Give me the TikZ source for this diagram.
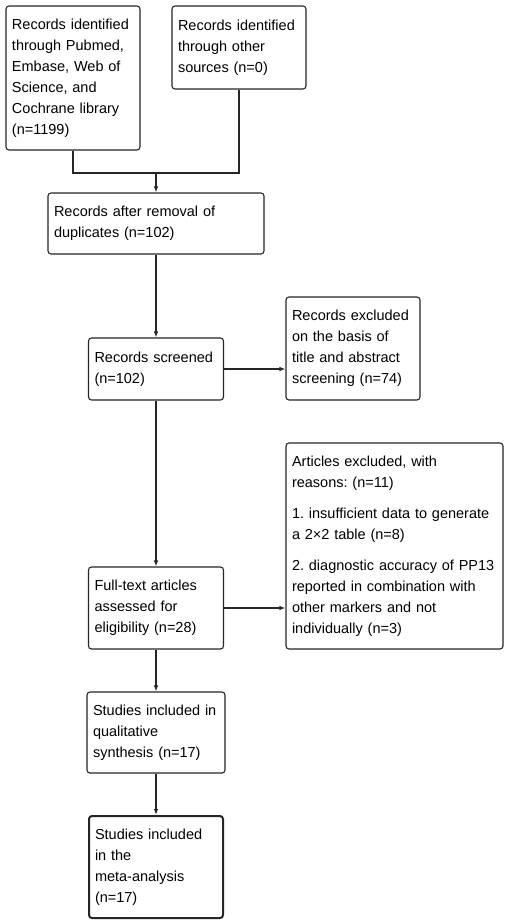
\documentclass[tikz,border=0pt]{standalone}
\usepackage{fontspec}
\setmainfont{Liberation Sans}
\usetikzlibrary{arrows.meta}
\frenchspacing
\newcommand{\fsz}{\fontsize{14.5}{21}\selectfont}
\tikzset{
  box/.style={draw=black!85, rounded corners=3pt, line width=1.1pt, inner xsep=6pt, inner ysep=0pt, align=left, font=\fsz, anchor=center},
  conn/.style={draw=black!85, line width=1.1pt},
  arr/.style={conn, -{Latex[length=6pt,width=4.5pt]}}
}
\begin{document}
\begin{tikzpicture}[x=1pt,y=-1pt]
\useasboundingbox[fill=white] (0,0) rectangle (510,924);
\node[box, minimum width=134pt, minimum height=144pt, text width=122pt] (A) at (73,78)
  {Records identified\\through Pubmed,\\Embase, Web of\\Science, and\\Cochrane library\\(n=1199)};
\node[box, minimum width=134pt, minimum height=83pt, text width=122pt] (B) at (239,47.5)
  {Records identified\\through other\\sources (n=0)};
\node[box, minimum width=216pt, minimum height=61pt, text width=204pt] (C) at (156,223.5)
  {Records after removal of\\duplicates (n=102)};
\node[box, minimum width=135pt, minimum height=62pt, text width=123pt] (D) at (156,369)
  {Records screened\\(n=102)};
\node[box, minimum width=134pt, minimum height=103pt, text width=122pt] (E) at (353,348.5)
  {Records excluded\\on the basis of\\title and abstract\\screening (n=74)};
\node[box, minimum width=217pt, minimum height=206pt, text width=205pt] (F) at (394.5,546)
  {Articles excluded, with\\reasons: (n=11)\\[10pt]1. insufficient data to generate\\a 2×2 table (n=8)\\[10pt]2. diagnostic accuracy of PP13\\reported in combination with\\other markers and not\\individually (n=3)};
\node[box, minimum width=135pt, minimum height=82pt, text width=123pt] (G) at (156,608)
  {Full-text articles\\assessed for\\eligibility (n=28)};
\node[box, minimum width=138pt, minimum height=81pt, text width=126pt] (H) at (156,732.5)
  {Studies included in\\qualitative\\synthesis (n=17)};
\node[box, line width=2pt, minimum width=134pt, minimum height=102pt, text width=122pt] (I) at (156,867)
  {Studies included\\in the\\meta-analysis\\(n=17)};
\coordinate (m) at (156,173);
\draw[conn] (A.south) |- (m) -| (B.south);
\draw[arr] (m) -- (C.north);
\draw[arr] (C.south) -- (D.north);
\draw[arr] (D.east) -- (D.east -| E.west);
\draw[arr] (D.south) -- (G.north);
\draw[arr] (G.east) -- (G.east -| F.west);
\draw[arr] (G.south) -- (H.north);
\draw[arr] (H.south) -- (I.north);
\end{tikzpicture}
\end{document}
